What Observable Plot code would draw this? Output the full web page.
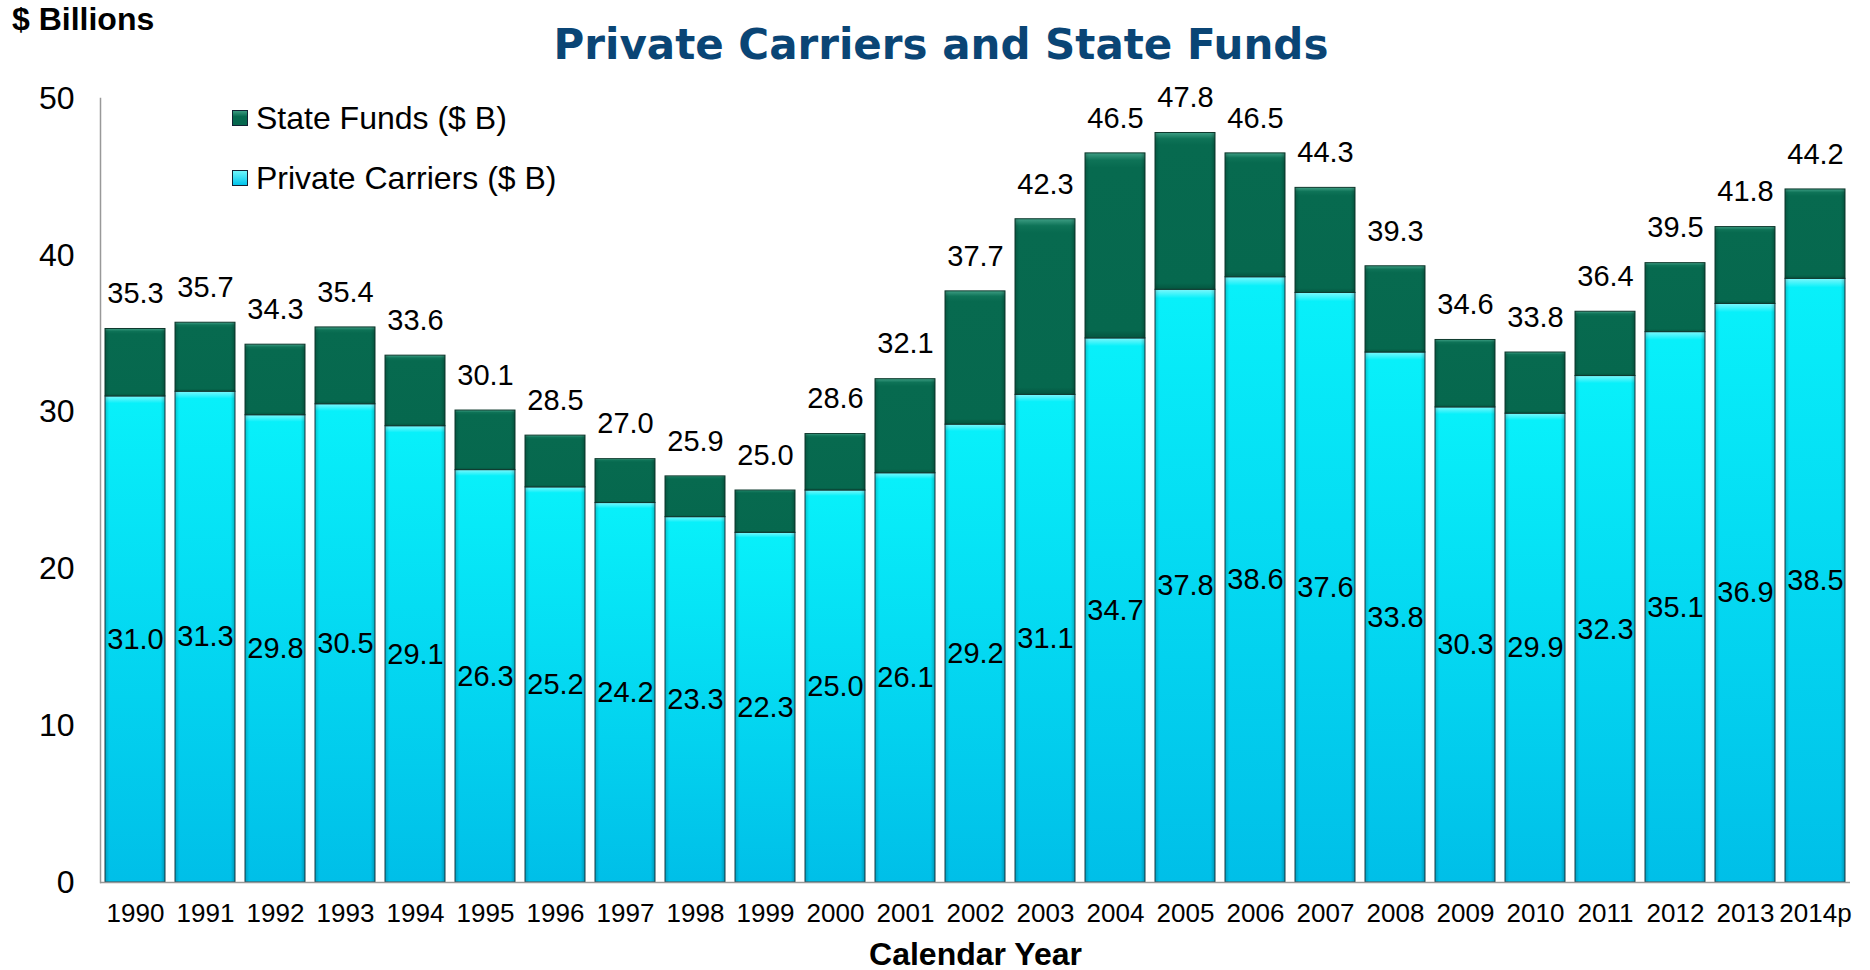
<!DOCTYPE html>
<html>
<head>
<meta charset="utf-8">
<script src="https://cdn.jsdelivr.net/npm/d3@7"></script>
<script src="https://cdn.jsdelivr.net/npm/@observablehq/plot@0.6"></script>
<style>
  html, body { margin: 0; padding: 0; background: #fff; }
  #wrap { position: relative; width: 1870px; height: 970px; font-family: "Liberation Sans", Arial, sans-serif; }
  #title { position: absolute; left: 0; width: 1882px; top: 20px; text-align: center;
    font-family: "DejaVu Sans", Verdana, sans-serif; font-weight: bold; font-size: 42px; color: #0a4575; }
  #unit { position: absolute; left: 12px; top: 1px; font-weight: bold; font-size: 32px; color: #000; }
  #legend { position: absolute; left: 232px; top: 103px; font-size: 32px; color: #000; }
  .item { display: flex; align-items: center; height: 30px; margin-bottom: 30px; }
  .sw { width: 16px; height: 16px; margin-right: 8px; box-sizing: border-box; border: 1px solid #123; }
  #chart { position: absolute; left: 0; top: 0; }
</style>
</head>
<body>
<div id="wrap">
  <div id="chart"></div>
  <div id="title">Private Carriers and State Funds</div>
  <div id="unit">$ Billions</div>
  <div id="legend">
    <div class="item"><div class="sw" style="background: linear-gradient(#3a9a80, #06684e 40%);"></div>State Funds ($ B)</div>
    <div class="item"><div class="sw" style="background: linear-gradient(#6ff6fb, #00c4ec);"></div>Private Carriers ($ B)</div>
  </div>
</div>
<script>
const years = ["1990","1991","1992","1993","1994","1995","1996","1997","1998","1999","2000","2001","2002","2003","2004","2005","2006","2007","2008","2009","2010","2011","2012","2013","2014p"];
const privateCarriers = [31.0,31.3,29.8,30.5,29.1,26.3,25.2,24.2,23.3,22.3,25.0,26.1,29.2,31.1,34.7,37.8,38.6,37.6,33.8,30.3,29.9,32.3,35.1,36.9,38.5];
const stateFunds = [4.3,4.4,4.5,4.9,4.5,3.8,3.3,2.8,2.6,2.7,3.6,6.0,8.5,11.2,11.8,10.0,7.9,6.7,5.5,4.3,3.9,4.1,4.4,4.9,5.7];
const totals = [35.3,35.7,34.3,35.4,33.6,30.1,28.5,27.0,25.9,25.0,28.6,32.1,37.7,42.3,46.5,47.8,46.5,44.3,39.3,34.6,33.8,36.4,39.5,41.8,44.2];
const yTicks = [0,10,20,30,40,50];

const data = years.map((year, i) => ({
  year, priv: privateCarriers[i], state: stateFunds[i], top: privateCarriers[i] + stateFunds[i], total: totals[i]
}));

const defs = () => {
  const svg = d3.create("svg:defs");
  const g1 = svg.append("linearGradient").attr("id", "gPriv").attr("x1", 0).attr("x2", 0).attr("y1", 0).attr("y2", 1);
  g1.append("stop").attr("offset", "0%").attr("stop-color", "#7ff7fb");
  g1.append("stop").attr("offset", "1.5%").attr("stop-color", "#08f0fa");
  g1.append("stop").attr("offset", "100%").attr("stop-color", "#00bfe8");
  const g2 = svg.append("linearGradient").attr("id", "gState").attr("x1", 0).attr("x2", 0).attr("y1", 0).attr("y2", 1);
  g2.append("stop").attr("offset", "0%").attr("stop-color", "#3f9f85");
  g2.append("stop").attr("offset", "4%").attr("stop-color", "#0e7357");
  g2.append("stop").attr("offset", "8%").attr("stop-color", "#076a4f");
  g2.append("stop").attr("offset", "96%").attr("stop-color", "#06684e");
  g2.append("stop").attr("offset", "100%").attr("stop-color", "#04553f");
  const g3 = svg.append("linearGradient").attr("id", "gEdge").attr("x1", 0).attr("x2", 1).attr("y1", 0).attr("y2", 0);
  g3.append("stop").attr("offset", "0%").attr("stop-color", "#000").attr("stop-opacity", 0.18);
  g3.append("stop").attr("offset", "7%").attr("stop-color", "#000").attr("stop-opacity", 0);
  g3.append("stop").attr("offset", "93%").attr("stop-color", "#000").attr("stop-opacity", 0);
  g3.append("stop").attr("offset", "100%").attr("stop-color", "#000").attr("stop-opacity", 0.22);
  return svg.node();
};

const chart = Plot.plot({
  width: 1870,
  height: 970,
  marginLeft: 100,
  marginRight: 20,
  marginTop: 98,
  marginBottom: 88,
  style: { fontFamily: "Liberation Sans, Arial, sans-serif", color: "#000", background: "transparent" },
  x: { domain: years, paddingInner: 0.14, paddingOuter: 0.07, label: null },
  y: { domain: [0, 50], label: null },
  marks: [
    defs,
    Plot.barY(data, { x: "year", y1: 0, y2: "priv", fill: "url(#gPriv)", stroke: "#1c3f48", strokeWidth: 1 }),
    Plot.barY(data, { x: "year", y1: "priv", y2: "top", fill: "url(#gState)", stroke: "#0f3a2e", strokeWidth: 1 }),
    Plot.barY(data, { x: "year", y1: 0, y2: "top", fill: "url(#gEdge)" }),
    Plot.frame({ anchor: "left", stroke: "#999", strokeWidth: 1.5 }),
    Plot.ruleY([0], { stroke: "#999", strokeWidth: 1.5 }),
    Plot.axisY({ ticks: yTicks, tickSize: 0, tickPadding: 26, fontSize: 32, tickFormat: d => String(d), label: null }),
    Plot.axisX({ tickSize: 0, tickPadding: 21, fontSize: 26, label: null }),
    Plot.text(data, { x: "year", y: "top", text: d => d.total.toFixed(1), dy: -35, fontSize: 29, fill: "#000" }),
    Plot.text(data, { x: "year", y: d => d.priv / 2, text: d => d.priv.toFixed(1), fontSize: 29, fill: "#000" }),
    Plot.text(["Calendar Year"], { frameAnchor: "bottom", dy: 82, text: d => d, fontSize: 32, fontWeight: "bold", fill: "#000" })
  ]
});
document.getElementById("chart").append(chart);
</script>
</body>
</html>
